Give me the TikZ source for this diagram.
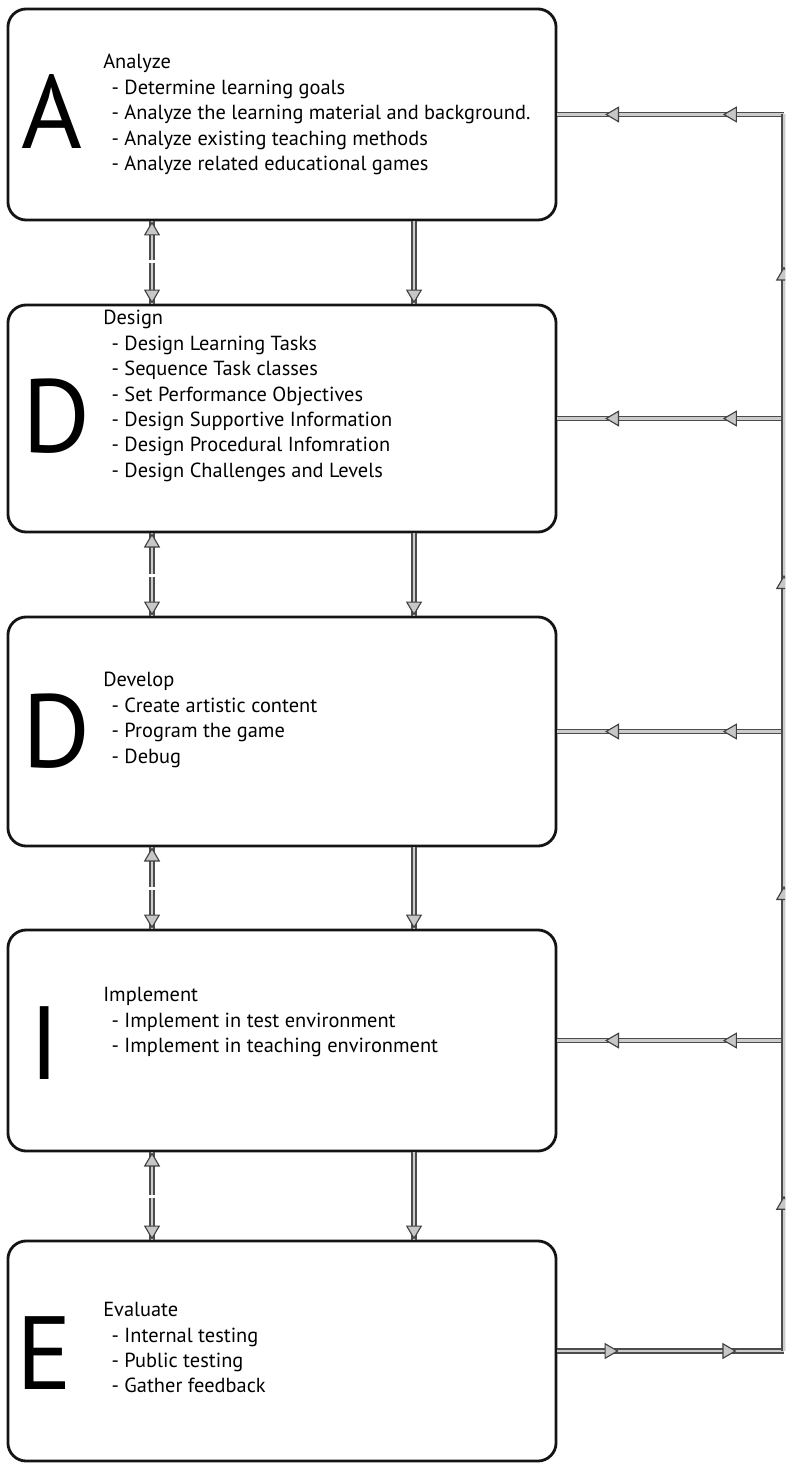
\documentclass[tikz,border=0pt]{standalone}
\usepackage{fontspec}
\setmainfont{PT Sans}
\usetikzlibrary{arrows.meta,decorations.markings,calc}

\newcommand\task[1]{\\\hspace*{6pt}- #1}

\tikzset{
  stage/.style={draw=black!92, line width=2pt, rounded corners=13pt, minimum width=13.7cm, inner sep=0pt},
  initial/.style={font=\fontsize{74}{74}\selectfont, text=black, inner sep=0pt},
  tasks/.style={align=left, anchor=north west, font=\fontsize{14.5}{18.1}\selectfont, text=black, inner sep=0pt},
  pipe/.style={draw=black!70, double=black!20, double distance=2pt, line width=0.8pt},
  head/.tip={Triangle[length=10pt, width=11.5pt, fill=black!22, color=black!75, line width=0.8pt]},
  tipend/.style={postaction={decorate}, decoration={markings, mark=at position 1 with {\arrow{head}}}},
  midflow/.style={postaction={decorate}, decoration={markings, mark=at position 0.5 with {\arrow{head}}}},
  twoflow/.style={postaction={decorate}, decoration={markings,
      mark=at position 0.27 with {\arrow{head}},
      mark=at position 0.79 with {\arrow{head}}}},
}

\begin{document}
\begin{tikzpicture}[x=0.025cm, y=-0.025cm]
\useasboundingbox (0,0) rectangle (785,1463);
\clip (0,0) rectangle (785,1463);

% the five stages
\node[stage, minimum height=5.275cm] (an) at (282,114.5) {};
\node[stage, minimum height=5.675cm] (de) at (282,418.5) {};
\node[stage, minimum height=5.725cm] (dv) at (282,731.5) {};
\node[stage, minimum height=5.525cm] (im) at (282,1040.5) {};
\node[stage, minimum height=5.5cm] (ev) at (282,1351) {};

\node[initial] (anL) at (52,111.5) {A};
\node[initial] (deL) at (57,416) {D};
\node[initial] (dvL) at (57,731) {D};
\node[initial] (imL) at (45,1043) {I};
\node[initial] (evL) at (44,1353) {E};

\node[tasks] (anT) at (103,54) {Analyze\task{Determine learning goals}\task{Analyze the learning material and background.}\task{Analyze existing teaching methods}\task{Analyze related educational games}};
\node[tasks] (deT) at (103,310) {Design\task{Design Learning Tasks}\task{Sequence Task classes}\task{Set Performance Objectives}\task{Design Supportive Information}\task{Design Procedural Infomration}\task{Design Challenges and Levels}};
\node[tasks] (dvT) at (103,672) {Develop\task{Create artistic content}\task{Program the game}\task{Debug}};
\node[tasks] (imT) at (103,987) {Implement\task{Implement in test environment}\task{Implement in teaching environment}};
\node[tasks] (evT) at (103,1302) {Evaluate\task{Internal testing}\task{Public testing}\task{Gather feedback}};

% arrows between the stages
\coordinate (down) at (414,0);
\coordinate (rail) at (784,0);
\coordinate (g1) at (152,262);
\coordinate (g2) at (152,575);
\coordinate (g3) at (152,888);
\coordinate (g4) at (152,1196);

\draw[pipe, tipend] ($(g1)+(0,-1.5)$) -- (an.south -| g1);
\draw[pipe, tipend] ($(g1)+(0,1.5)$) -- (de.north -| g1);
\draw[pipe, tipend] (an.south -| down) -- (de.north -| down);

\draw[pipe, tipend] ($(g2)+(0,-1.5)$) -- (de.south -| g2);
\draw[pipe, tipend] ($(g2)+(0,1.5)$) -- (dv.north -| g2);
\draw[pipe, tipend] (de.south -| down) -- (dv.north -| down);

\draw[pipe, tipend] ($(g3)+(0,-1.5)$) -- (dv.south -| g3);
\draw[pipe, tipend] ($(g3)+(0,1.5)$) -- (im.north -| g3);
\draw[pipe, tipend] (dv.south -| down) -- (im.north -| down);

\draw[pipe, tipend] ($(g4)+(0,-1.5)$) -- (im.south -| g4);
\draw[pipe, tipend] ($(g4)+(0,1.5)$) -- (ev.north -| g4);
\draw[pipe, tipend] (im.south -| down) -- (ev.north -| down);

% feedback loop on the right
\draw[pipe, twoflow] (ev.east) -- (ev.east -| rail);
\draw[pipe, twoflow] (an.east -| rail) -- (an.east);
\draw[pipe, twoflow] (de.east -| rail) -- (de.east);
\draw[pipe, twoflow] (dv.east -| rail) -- (dv.east);
\draw[pipe, twoflow] (im.east -| rail) -- (im.east);
\draw[pipe, midflow] (ev.east -| rail) -- (im.east -| rail);
\draw[pipe, midflow] (im.east -| rail) -- (dv.east -| rail);
\draw[pipe, midflow] (dv.east -| rail) -- (de.east -| rail);
\draw[pipe, midflow] (de.east -| rail) -- (an.east -| rail);
\end{tikzpicture}
\end{document}
